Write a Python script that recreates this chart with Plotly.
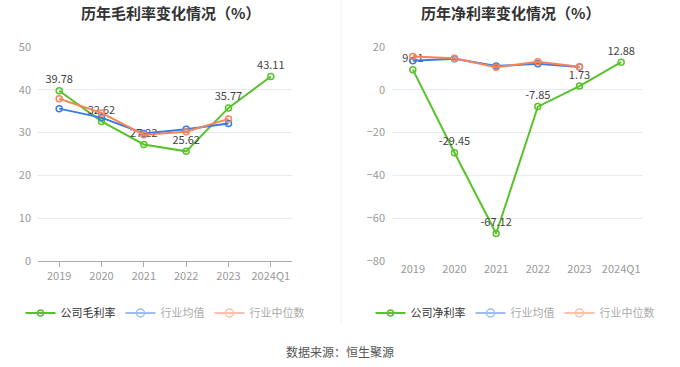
import plotly.graph_objects as go

years = ["2019", "2020", "2021", "2022", "2023", "2024Q1"]
years_ind = ["2019", "2020", "2021", "2022", "2023"]

gross_company = [39.78, 32.62, 27.22, 25.62, 35.77, 43.11]
gross_ind_avg = [35.6, 33.5, 29.8, 30.8, 32.1]
gross_ind_med = [37.9, 34.6, 29.5, 30.2, 33.2]

net_company = [9.41, -29.45, -67.12, -7.85, 1.73, 12.88]
net_ind_avg = [13.6, 14.5, 11.1, 12.2, 10.6]
net_ind_med = [15.6, 14.7, 10.5, 13.1, 10.8]

left_ticks = [0, 10, 20, 30, 40, 50]
right_ticks = [-80, -60, -40, -20, 0, 20]

GREEN = "#58C22A"
BLUE = "#3A7BE6"
ORANGE = "#F5845A"
LBLUE = "#9DBDF3"
LORANGE = "#FAC1AB"
FONT = "Noto Sans CJK SC"

fig = go.Figure()

def add_set(xa, ya, comp, avg, med, comp_name, legend):
    fig.add_trace(go.Scatter(
        x=years, y=comp, xaxis=xa, yaxis=ya, mode="lines+markers+text",
        line=dict(color=GREEN, width=2), marker=dict(symbol="circle-open", size=6, color=GREEN, line=dict(width=1.5)),
        text=[f"{v:.2f}" for v in comp], textposition="top center",
        textfont=dict(size=11, color="#444", family=FONT),
        name=comp_name, legend=legend, cliponaxis=False))
    fig.add_trace(go.Scatter(
        x=years_ind, y=avg, xaxis=xa, yaxis=ya, mode="lines+markers",
        line=dict(color=BLUE, width=2), marker=dict(symbol="circle-open", size=6, color=BLUE, line=dict(width=1.5)),
        showlegend=False, cliponaxis=False))
    fig.add_trace(go.Scatter(
        x=years_ind, y=med, xaxis=xa, yaxis=ya, mode="lines+markers",
        line=dict(color=ORANGE, width=2), marker=dict(symbol="circle-open", size=6, color=ORANGE, line=dict(width=1.5)),
        showlegend=False, cliponaxis=False))
    fig.add_trace(go.Scatter(
        x=[None], y=[None], xaxis=xa, yaxis=ya, mode="lines+markers",
        line=dict(color=LBLUE, width=2), marker=dict(symbol="circle-open", size=8, color=LBLUE, line=dict(width=1.5)),
        name='<span style="color:#aaaaaa">行业均值</span>', legend=legend))
    fig.add_trace(go.Scatter(
        x=[None], y=[None], xaxis=xa, yaxis=ya, mode="lines+markers",
        line=dict(color=LORANGE, width=2), marker=dict(symbol="circle-open", size=8, color=LORANGE, line=dict(width=1.5)),
        name='<span style="color:#aaaaaa">行业中位数</span>', legend=legend))

add_set("x", "y", gross_company, gross_ind_avg, gross_ind_med, "公司毛利率", "legend")
add_set("x2", "y2", net_company, net_ind_avg, net_ind_med, "公司净利率", "legend2")

ydom = [1 - 261 / 367, 1 - 47 / 367]
tickfont = dict(size=11, color="#999", family=FONT)
grid = "#E6EBF3"

zero_pos = ydom[0] + (0 - (-80)) / 100 * (ydom[1] - ydom[0])

fig.update_layout(
    width=680, height=367,
    margin=dict(l=0, r=0, t=0, b=0, autoexpand=False),
    paper_bgcolor="white", plot_bgcolor="white",
    font=dict(family=FONT),
    xaxis=dict(domain=[38 / 680, 292 / 680], anchor="y", type="category",
               categoryorder="array", categoryarray=years,
               showline=True, linecolor="#AAAAAA", linewidth=1,
               ticks="outside", ticklen=5, tickcolor="#AAAAAA",
               tickfont=tickfont, showgrid=False, range=[-0.5, 5.5], automargin=False),
    yaxis=dict(domain=ydom, anchor="x", range=[0, 50], tickvals=left_ticks,
               showgrid=True, gridcolor=grid, zeroline=False, showline=False,
               tickfont=tickfont, ticks="", ticklabelstandoff=6, automargin=False),
    xaxis2=dict(domain=[392 / 680, 642 / 680], anchor="y2", type="category",
                categoryorder="array", categoryarray=years,
                showline=False, ticks="", tickfont=tickfont, showgrid=False,
                range=[-0.5, 5.5], automargin=False),
    xaxis3=dict(domain=[392 / 680, 642 / 680], anchor="free", position=zero_pos,
                overlaying="x2", range=[-0.5, 5.5], tickvals=[0, 1, 2, 3, 4, 5],
                showticklabels=False, showline=True, linecolor="#AAAAAA", linewidth=1,
                ticks="outside", ticklen=5, tickcolor="#AAAAAA", showgrid=False, automargin=False),
    yaxis2=dict(domain=ydom, anchor="x2", range=[-80, 20], tickvals=right_ticks,
                showgrid=True, gridcolor=grid, zeroline=False, showline=False,
                tickfont=tickfont, ticks="", ticklabelstandoff=6, automargin=False),
    legend=dict(orientation="h", x=165 / 680, xanchor="center", y=1 - 313 / 367, yanchor="middle",
                font=dict(size=11, color="#333", family=FONT), itemwidth=30,
                bgcolor="rgba(0,0,0,0)", tracegroupgap=0),
    legend2=dict(orientation="h", x=515 / 680, xanchor="center", y=1 - 313 / 367, yanchor="middle",
                 font=dict(size=11, color="#333", family=FONT), itemwidth=30,
                 bgcolor="rgba(0,0,0,0)", tracegroupgap=0),
    annotations=[
        dict(text="<b>历年毛利率变化情况（%）</b>", x=170 / 680, y=1 - 12 / 367, xref="paper", yref="paper",
             showarrow=False, font=dict(size=15, color="#333", family=FONT), xanchor="center", yanchor="middle"),
        dict(text="<b>历年净利率变化情况（%）</b>", x=510 / 680, y=1 - 12 / 367, xref="paper", yref="paper",
             showarrow=False, font=dict(size=15, color="#333", family=FONT), xanchor="center", yanchor="middle"),
        dict(text="数据来源：恒生聚源", x=0.5, y=1 - 351 / 367, xref="paper", yref="paper",
             showarrow=False, font=dict(size=12, color="#555", family=FONT), xanchor="center", yanchor="middle"),
    ],
    shapes=[dict(type="line", xref="paper", yref="paper", x0=341 / 680, x1=341 / 680,
                 y0=1 - 325 / 367, y1=1, line=dict(color="#F0F0F0", width=1))],
)

fig.write_html("out.html", config={"displayModeBar": False},
               post_script="document.body.style.margin='0';document.body.style.overflow='hidden';")
